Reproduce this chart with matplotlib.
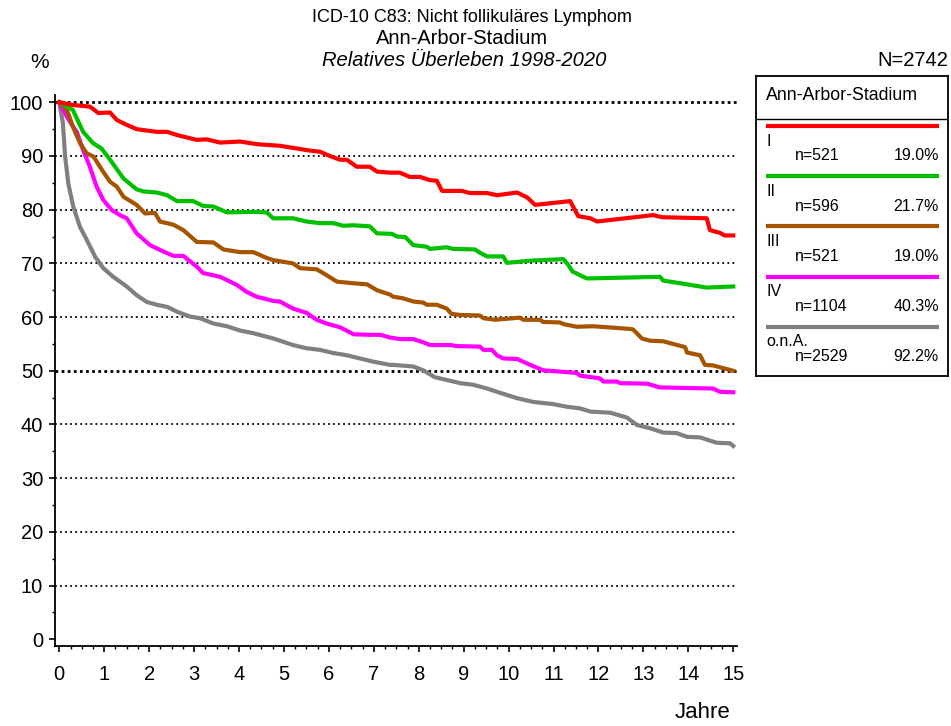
import matplotlib
matplotlib.use("Agg")
import matplotlib.pyplot as plt
from matplotlib.ticker import MultipleLocator

plt.rcParams['font.family'] = ['Liberation Sans', 'DejaVu Sans']

# ---- data (years, relative survival %) ----
x_I = [0, 0.3, 0.68, 0.87, 1.13, 1.28, 1.5, 1.72, 2.17, 2.4, 2.62, 3.06, 3.28, 3.58, 4.02, 4.4, 4.91,
       5.36, 5.58, 5.8, 6.02, 6.25, 6.4, 6.62, 6.91, 7.07, 7.36, 7.58, 7.8, 8.03, 8.25, 8.4, 8.52,
       8.96, 9.14, 9.52, 9.74, 10.19, 10.41, 10.59, 11.37, 11.55, 11.82, 11.97, 13.22, 13.41, 14.41,
       14.48, 14.7, 14.81, 15.0]
y_I = [100, 99.5, 99.2, 98.0, 98.1, 96.7, 95.8, 95.0, 94.5, 94.5, 93.9, 93.0, 93.1, 92.5, 92.7, 92.2, 91.9,
       91.3, 91.0, 90.8, 90.0, 89.3, 89.3, 88.0, 88.0, 87.1, 86.9, 86.9, 86.1, 86.1, 85.5, 85.4, 83.5,
       83.5, 83.1, 83.1, 82.7, 83.2, 82.3, 80.9, 81.6, 78.8, 78.4, 77.8, 79.0, 78.6, 78.4,
       76.2, 75.7, 75.2, 75.2]

x_II = [0, 0.3, 0.53, 0.75, 0.94, 1.13, 1.43, 1.72, 1.87, 2.17, 2.4, 2.62, 2.98, 3.2, 3.43, 3.73, 4.32,
        4.62, 4.76, 5.2, 5.5, 5.8, 6.1, 6.32, 6.55, 6.91, 7.07, 7.4, 7.52, 7.7, 7.88, 8.18, 8.25, 8.62,
        8.77, 9.25, 9.36, 9.52, 9.88, 9.96, 10.48, 11.22, 11.33, 11.42, 11.59, 11.74, 13.37, 13.44,
        13.82, 14.41, 15.0]
y_II = [100, 98.6, 94.5, 92.4, 91.4, 89.3, 85.8, 83.8, 83.4, 83.2, 82.7, 81.6, 81.6, 80.7, 80.6, 79.5, 79.6,
        79.5, 78.4, 78.4, 77.8, 77.5, 77.5, 77.0, 77.1, 76.9, 75.6, 75.5, 75.0, 74.9, 73.4, 73.1, 72.7, 73.0,
        72.7, 72.6, 72.0, 71.3, 71.3, 70.1, 70.5, 70.8, 69.7, 68.5, 67.8, 67.2, 67.5, 66.8,
        66.3, 65.5, 65.7]

x_III = [0, 0.17, 0.3, 0.46, 0.61, 0.76, 0.95, 1.13, 1.28, 1.43, 1.72, 1.91, 2.13, 2.24, 2.54, 2.76, 3.06,
         3.43, 3.65, 4.02, 4.32, 4.62, 4.77, 5.2, 5.36, 5.73, 5.95, 6.18, 6.55, 6.85, 7.07, 7.36, 7.43,
         7.65, 7.88, 8.1, 8.18, 8.4, 8.62, 8.73, 8.92, 9.36, 9.44, 9.7, 10.25, 10.33, 10.7, 10.77, 11.14,
         11.22, 11.52, 11.88, 12.7, 12.77, 12.97, 13.15, 13.44, 13.66, 13.93, 13.97, 14.26, 14.37, 14.55,
         15.0]
y_III = [100, 98.6, 95.5, 92.4, 90.5, 89.9, 87.4, 85.2, 84.3, 82.4, 80.9, 79.3, 79.4, 77.8, 77.2, 76.2, 74.0,
         73.9, 72.6, 72.1, 72.1, 71.0, 70.6, 70.0, 69.1, 68.9, 67.8, 66.6, 66.3, 66.1, 65.0, 64.2, 63.8,
         63.5, 62.9, 62.7, 62.3, 62.3, 61.6, 60.6, 60.4, 60.3, 59.8, 59.5, 59.9, 59.5, 59.5, 59.1, 59.0,
         58.7, 58.2, 58.3, 57.8, 57.7, 56.0, 55.6, 55.5, 55.0, 54.4, 53.4, 52.9, 51.1, 51.0,
         50.0]

x_IV = [0, 0.17, 0.28, 0.39, 0.53, 0.68, 0.83, 0.98, 1.17, 1.35, 1.5, 1.72, 2.02, 2.32, 2.54, 2.76, 3.06,
        3.2, 3.58, 3.95, 4.17, 4.39, 4.77, 4.91, 5.2, 5.5, 5.73, 5.95, 6.25, 6.55, 6.91, 7.14, 7.36, 7.58,
        7.88, 8.1, 8.25, 8.7, 8.85, 9.36, 9.44, 9.63, 9.74, 9.88, 10.19, 10.48, 10.77, 11.52, 11.59,
        12.03, 12.11, 12.41, 12.48, 13.08, 13.37, 14.55, 14.7, 15.0]
y_IV = [100, 97.3, 95.8, 94.5, 91.1, 88.0, 84.3, 81.8, 79.9, 79.0, 78.4, 75.6, 73.4, 72.2, 71.4, 71.4, 69.4,
        68.2, 67.5, 66.0, 64.7, 63.8, 63.0, 62.9, 61.6, 60.8, 59.5, 58.8, 58.1, 56.8, 56.7, 56.7, 56.2, 55.9,
        55.9, 55.3, 54.8, 54.8, 54.6, 54.5, 53.9, 53.9, 52.9, 52.3, 52.2, 51.1, 50.1, 49.6, 49.1,
        48.6, 48.0, 48.0, 47.7, 47.6, 46.9, 46.7, 46.1, 46.0]

x_ona = [0, 0.08, 0.13, 0.2, 0.31, 0.46, 0.61, 0.8, 0.98, 1.2, 1.5, 1.72, 1.95, 2.17, 2.4, 2.62, 2.91,
         3.13, 3.43, 3.73, 4.02, 4.32, 4.77, 5.2, 5.5, 5.8, 6.1, 6.4, 6.69, 6.99, 7.36, 7.43, 7.88, 8.1,
         8.36, 8.62, 8.92, 9.21, 9.52, 9.81, 10.19, 10.55, 10.99, 11.3, 11.59, 11.82, 12.26, 12.63,
         12.86, 13.15, 13.44, 13.74, 13.97, 14.26, 14.63, 14.93, 15.0]
y_ona = [100, 96.1, 89.9, 84.9, 80.6, 76.8, 74.4, 71.2, 69.1, 67.5, 65.7, 64.1, 62.8, 62.3, 61.9, 61.0, 60.1,
         59.8, 58.8, 58.3, 57.5, 57.0, 56.0, 54.8, 54.2, 53.9, 53.3, 52.9, 52.3, 51.7, 51.1, 51.1, 50.8, 50.1,
         48.8, 48.3, 47.7, 47.4, 46.7, 45.9, 44.9, 44.2, 43.8, 43.3, 43.0, 42.4, 42.2, 41.3,
         39.9, 39.3, 38.5, 38.4, 37.7, 37.6, 36.6, 36.5, 36.0]

series_labels = ["I", "II", "III", "IV", "o.n.A."]
series_n = ["n=521", "n=596", "n=521", "n=1104", "n=2529"]
series_pct = ["19.0%", "21.7%", "19.0%", "40.3%", "92.2%"]
series_colors = ["#FF0000", "#00C000", "#A65400", "#FF00FF", "#808080"]
x_ticks = list(range(0, 16))
y_ticks = list(range(0, 101, 10))

W, H = 951, 726
fig = plt.figure(figsize=(W / 100, H / 100), dpi=100)

def fx(px):
    return px / W

def fy(py):
    return 1 - py / H

ax_l, ax_r, ax_t, ax_b = 55, 737, 95, 645.7
ax = fig.add_axes([fx(ax_l), fy(ax_b), (ax_r - ax_l) / W, (ax_b - ax_t) / H])
# data limits from pixel mapping
x0p, xs = 59.3, 44.93
y0p, ys = 639.3, 5.37
ax.set_xlim((ax_l - x0p) / xs, (ax_r - x0p) / xs)
ax.set_ylim((y0p - ax_b) / ys, (y0p - ax_t) / ys)

for s in ["top", "right"]:
    ax.spines[s].set_visible(False)
for s in ["left", "bottom"]:
    ax.spines[s].set_linewidth(1.3)

# gridlines
for yv in y_ticks[1:]:
    bold = yv in (50, 100)
    ax.axhline(yv, color="black", lw=2.0 if bold else 1.3,
               linestyle=(0, (1, 1.8)) if not bold else (0, (1, 1.2)), zorder=1)

xs_all = [x_I, x_II, x_III, x_IV, x_ona]
ys_all = [y_I, y_II, y_III, y_IV, y_ona]
order = [4, 3, 2, 1, 0]
for i in order:
    ax.plot(xs_all[i], ys_all[i], color=series_colors[i], lw=3.0, solid_joinstyle="round", zorder=3)

ax.set_xticks(x_ticks)
ax.set_xticklabels([str(v) for v in x_ticks], fontsize=14.5)
ax.set_yticks(y_ticks)
ax.set_yticklabels([str(v) for v in y_ticks], fontsize=14.5)
ax.xaxis.set_minor_locator(MultipleLocator(0.25))
ax.yaxis.set_minor_locator(MultipleLocator(5))
ax.tick_params(axis="x", which="major", length=4, width=1.2, pad=10)
ax.tick_params(axis="x", which="minor", length=2.3, width=1.0)
ax.tick_params(axis="y", which="major", length=4.5, width=1.2, pad=4)
ax.tick_params(axis="y", which="minor", length=2.5, width=1.0)

# titles
fig.text(fx(472), fy(18), "ICD-10 C83: Nicht follikuläres Lymphom", ha="center", va="center", fontsize=13)
fig.text(fx(462), fy(38), "Ann-Arbor-Stadium", ha="center", va="center", fontsize=14.5)
fig.text(fx(464), fy(60), "Relatives Überleben 1998-2020", ha="center", va="center", fontsize=14.5, style="italic")
fig.text(fx(40), fy(63), "%", ha="center", va="center", fontsize=15)
fig.text(fx(948), fy(60), "N=2742", ha="right", va="center", fontsize=14.5)
fig.text(fx(703), fy(712), "Jahre", ha="center", va="center", fontsize=16)

# legend box in pixel coordinates
L, R, T, B = 756, 948, 76, 376
lax = fig.add_axes([fx(L), fy(B), (R - L) / W, (B - T) / H])
lax.set_xlim(L, R)
lax.set_ylim(B, T)
lax.set_xticks([])
lax.set_yticks([])
for s in lax.spines.values():
    s.set_linewidth(1.3)
lax.axhline(119, color="black", lw=1.0)
lax.text(766, 96, "Ann-Arbor-Stadium", ha="left", va="center", fontsize=12.8)
for i in range(5):
    yl = 126 + 50.2 * i
    lax.plot([766, 939], [yl, yl], color=series_colors[i], lw=3.0, solid_capstyle="butt")
    lax.text(766, yl + 15, series_labels[i], ha="left", va="center", fontsize=11.5)
    lax.text(795, yl + 30, series_n[i], ha="left", va="center", fontsize=11.5)
    lax.text(939, yl + 30, series_pct[i], ha="right", va="center", fontsize=11.5)

fig.savefig("out.png", dpi=100)
